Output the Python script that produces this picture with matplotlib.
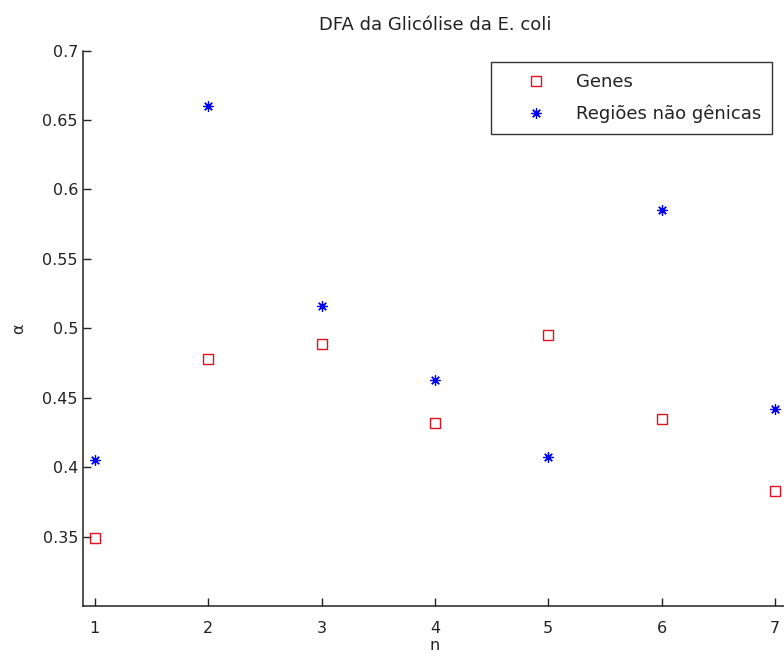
import matplotlib
matplotlib.use('Agg')
import matplotlib.pyplot as plt

# DFA exponent per window n
n_vals = [1, 2, 3, 4, 5, 6, 7]
alpha_genes = [0.349, 0.478, 0.489, 0.432, 0.495, 0.435, 0.383]
alpha_nongenic = [0.405, 0.660, 0.516, 0.463, 0.407, 0.585, 0.442]

y_ticks = [0.35, 0.4, 0.45, 0.5, 0.55, 0.6, 0.65, 0.7]
y_ticklabels = ['0.35', '0.4', '0.45', '0.5', '0.55', '0.6', '0.65', '0.7']

plt.rcParams['font.family'] = ['DejaVu Sans']
FS = 11.5
INK = '#222222'

fig = plt.figure(figsize=(7.84, 6.65), dpi=100)
fig.patch.set_facecolor('white')
# axes run slightly past the right edge of the canvas
ax = fig.add_axes([0.1065, 0.0887, 0.8964, 0.8353])

ax.plot(n_vals, alpha_genes, linestyle='none', marker='s', markersize=7,
        markerfacecolor='none', markeredgecolor='#e0101e', markeredgewidth=1.0,
        label='Genes')
# 8-armed asterisk, like a plus over a cross
ax.plot(n_vals, alpha_nongenic, linestyle='none', marker=(8, 2, 0),
        markersize=7.5, color='#0000f0', markeredgewidth=0.9,
        label='Regiões não gênicas')

ax.set_xlim(0.9, 7.1)
ax.set_ylim(0.3, 0.7)
ax.set_xticks(n_vals)
ax.set_yticks(y_ticks)
ax.set_yticklabels(y_ticklabels)
ax.tick_params(direction='in', length=6, width=1, labelsize=FS, colors=INK)
ax.tick_params(axis='x', pad=11)
ax.tick_params(axis='y', pad=4)

ax.spines['top'].set_visible(False)
ax.spines['right'].set_visible(False)
for s in ('left', 'bottom'):
    ax.spines[s].set_linewidth(1.1)
    ax.spines[s].set_color(INK)

ax.set_title('DFA da Glicólise da E. coli', fontsize=13, pad=15, color=INK)
ax.set_xlabel('n', fontsize=FS, labelpad=1, color=INK)
ax.set_ylabel('\u03b1', fontsize=FS, labelpad=12, rotation=90, color=INK)

leg = ax.legend(loc='upper right', bbox_to_anchor=(772 / 784, 1 - 62 / 665),
                bbox_transform=fig.transFigure, borderaxespad=0, fontsize=13,
                frameon=True, fancybox=False, edgecolor='black',
                borderpad=0.6, handletextpad=0.3, labelspacing=0.77,
                handlelength=3.8)
leg.get_frame().set_linewidth(1.0)
for t in leg.get_texts():
    t.set_color(INK)

fig.savefig('out.png', dpi=100)
